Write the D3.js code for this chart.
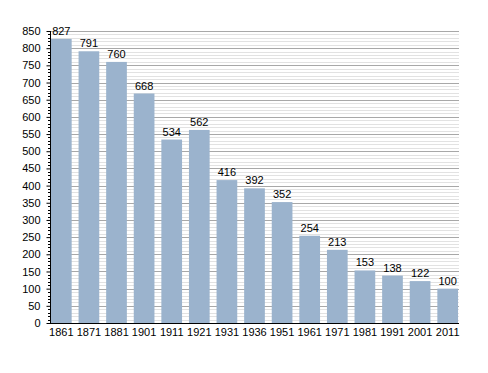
<!DOCTYPE html>
<html><head><meta charset="utf-8">
<script src="https://cdn.jsdelivr.net/npm/d3@7"></script>
<style>body{margin:0;background:#fff}svg{display:block}text{font-family:"Liberation Sans",Arial,sans-serif;font-size:11px;fill:#000}</style>
</head><body>
<script>
const years = ["1861","1871","1881","1901","1911","1921","1931","1936","1951","1961","1971","1981","1991","2001","2011"];
const population = [827,791,760,668,534,562,416,392,352,254,213,153,138,122,100];
const yTicks = [0,50,100,150,200,250,300,350,400,450,500,550,600,650,700,750,800,850];

const W=488,H=373;
const svg=d3.select("body").append("svg").attr("width",W).attr("height",H);
const x=d3.scaleBand().domain(years).range([50,459]).paddingInner(0.25).paddingOuter(0.035);
const y=d3.scaleLinear().domain([0,850]).range([323,31]);

const minor=d3.range(0,851,10);
svg.append("g").selectAll("line").data(minor.filter(v=>v%50!==0)).join("line")
 .attr("x1",51).attr("x2",459).attr("y1",d=>Math.round(y(d))+0.5).attr("y2",d=>Math.round(y(d))+0.5)
 .attr("stroke","#e2e2e2");
svg.append("g").selectAll("line").data(yTicks.filter(v=>v>0)).join("line")
 .attr("x1",51).attr("x2",459).attr("y1",d=>Math.round(y(d))+0.5).attr("y2",d=>Math.round(y(d))+0.5)
 .attr("stroke","#a8a8a8");

svg.append("g").selectAll("rect").data(population).join("rect")
 .attr("x",(d,i)=>x(years[i])).attr("width",x.bandwidth())
 .attr("y",d=>y(d)).attr("height",d=>y(0)-y(d)).attr("fill","#9bb3cd");

svg.append("g").selectAll("text").data(population).join("text")
 .attr("x",(d,i)=>x(years[i])+x.bandwidth()/2).attr("y",d=>y(d)-4)
 .attr("text-anchor","middle").text(d=>d);

const ya=svg.append("g").attr("transform","translate(50.5,0)")
 .call(d3.axisLeft(y).tickValues(yTicks).tickSize(4).tickPadding(6).tickFormat(d3.format("d")));
ya.select(".domain").remove();
ya.selectAll("text").style("font-size","11px").style("font-family","Liberation Sans, Arial, sans-serif");
svg.append("g").selectAll("line").data(minor.filter(v=>v%50!==0)).join("line")
 .attr("x1",48).attr("x2",50).attr("y1",d=>Math.round(y(d))+0.5).attr("y2",d=>Math.round(y(d))+0.5)
 .attr("stroke","#000");
svg.append("line").attr("x1",50.5).attr("x2",50.5).attr("y1",31).attr("y2",323.5).attr("stroke","#000");
svg.append("line").attr("x1",50).attr("x2",459).attr("y1",323.5).attr("y2",323.5).attr("stroke","#000");

const xa=svg.append("g").attr("transform","translate(0,323)")
 .call(d3.axisBottom(x).tickSize(0).tickPadding(5));
xa.select(".domain").remove();
xa.selectAll("text").style("font-size","11px").style("font-family","Liberation Sans, Arial, sans-serif");
</script>
</body></html>
